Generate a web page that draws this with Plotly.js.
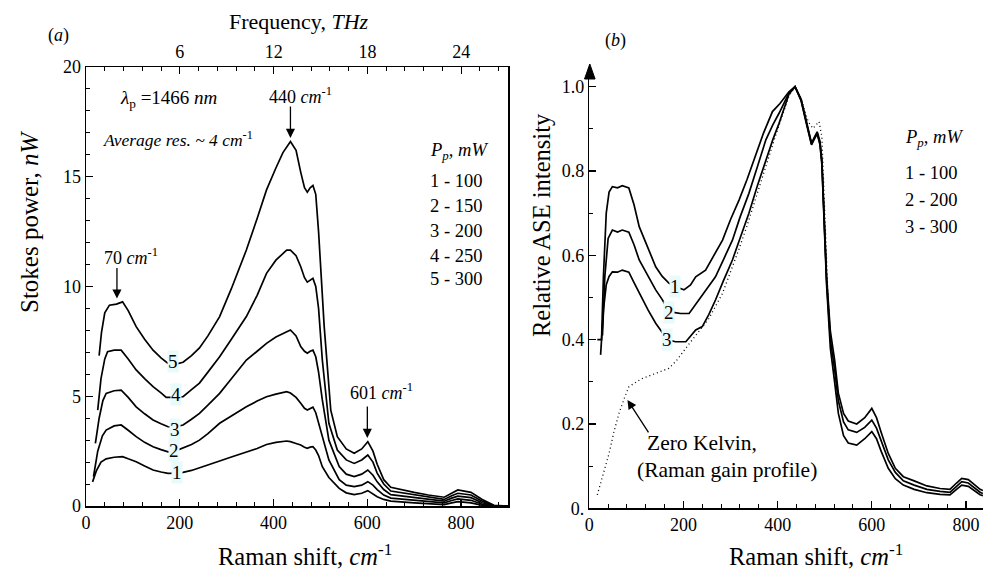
<!DOCTYPE html>
<html><head><meta charset="utf-8">
<script src="https://cdn.plot.ly/plotly-3.0.1.min.js"></script>
<style>html,body{margin:0;padding:0;background:#fff}#chart{width:983px;height:571px}</style>
</head><body><div id="chart"></div><script>
// ---------- Panel (a): Stokes power (nW) vs Raman shift (cm-1) ----------
const a5X = [28,33,40,50,65,78,90,107,125,143,160,175,190,207,225,242,260,285,310,342,365,385,405,420,436,448,458,466,472,478,484,490,496,508,522,536,555,572,588,601,612,621,635,650,700,730,764,780,793,821,845,870,900];
const a5Y = [6.85,7.9,8.8,9.15,9.2,9.3,8.9,8.17,7.6,7.1,6.75,6.5,6.45,6.55,6.85,7.2,7.75,8.63,9.9,11.66,13.1,14.4,15.4,16.1,16.6,16.2,15.2,14.5,14.3,14.5,14.6,14.2,12.5,8.17,4.37,3.16,2.6,2.4,2.6,2.93,2.5,1.9,1.2,0.85,0.62,0.5,0.4,0.6,0.73,0.62,0.3,0.03,0];
const a4X = [25,32,40,46,60,75,90,107,125,143,160,171,190,207,225,242,260,285,310,342,365,385,405,428,436,448,458,466,472,478,484,490,496,504,518,536,555,572,588,601,612,621,635,650,700,730,764,780,793,821,845,870,900];
const a4Y = [4.37,5.8,6.7,7.03,7.1,7.1,6.7,6.2,5.8,5.44,5.15,4.95,4.95,4.98,5.3,5.6,6.1,6.8,7.6,8.63,9.6,10.6,11.2,11.66,11.66,11.4,10.9,10.4,10.2,10.3,10.37,10.0,9.0,6.65,3.77,2.55,2.1,1.94,2.1,2.32,2.0,1.5,1.0,0.68,0.5,0.4,0.3,0.47,0.58,0.5,0.22,0.02,0];
const a3X = [20,28,36,43,60,75,90,107,125,143,160,175,190,207,225,242,260,285,310,342,365,385,405,428,436,448,458,466,472,478,484,490,496,504,518,540,555,572,588,601,612,621,635,650,700,730,764,780,793,821,845,870,900];
const a3Y = [2.85,4.0,4.8,5.13,5.25,5.28,4.95,4.52,4.2,3.92,3.75,3.61,3.6,3.69,3.95,4.22,4.6,5.13,5.8,6.65,7.05,7.41,7.7,7.94,8.02,7.75,7.26,7.05,6.96,7.05,7.1,6.8,6.1,4.83,3.0,1.8,1.45,1.34,1.45,1.64,1.4,1.1,0.75,0.52,0.38,0.3,0.22,0.36,0.45,0.38,0.15,0.01,0];
const a2X = [16,25,35,43,60,75,90,107,125,143,160,175,190,207,225,242,260,285,310,342,365,385,405,428,436,448,458,466,472,478,484,490,496,504,518,540,555,572,588,601,612,621,635,650,700,730,764,780,793,821,845,870,900];
const a2Y = [1.34,2.5,3.2,3.46,3.65,3.69,3.45,3.16,2.9,2.7,2.57,2.47,2.5,2.63,2.8,3.0,3.3,3.77,4.1,4.52,4.78,4.98,5.1,5.21,5.15,4.95,4.68,4.45,4.37,4.45,4.5,4.25,3.8,3.16,2.1,1.2,0.95,0.88,0.95,1.11,0.95,0.75,0.5,0.36,0.26,0.2,0.14,0.25,0.32,0.26,0.08,0,0];
const a1X = [14,22,32,43,60,78,90,107,125,143,160,175,190,207,225,242,260,285,310,342,365,385,405,428,436,448,458,466,472,478,484,490,496,504,518,540,555,572,588,601,612,621,635,650,700,730,764,780,793,821,845,870,900];
const a1Y = [1.1,1.6,2.0,2.15,2.22,2.25,2.15,2.02,1.82,1.64,1.55,1.49,1.5,1.53,1.62,1.75,1.88,2.05,2.23,2.45,2.62,2.8,2.9,2.96,2.93,2.85,2.78,2.68,2.63,2.68,2.7,2.55,2.3,1.79,1.3,0.8,0.6,0.52,0.58,0.70,0.55,0.42,0.3,0.22,0.14,0.1,0.06,0.14,0.2,0.14,0.03,0,0];
const aCurveLabels = ['1','2','3','4','5'];
const aLegendRows = ['1 - 100','2 - 150','3 - 200','4 - 250','5 - 300'];
const aTicksX = [0,200,400,600,800];
const aTicksY = [0,5,10,15,20];
const freqTHz = [6,12,18,24];

// ---------- Panel (b): relative ASE intensity ----------
const b1X = [17,26,30,36,42,49,60,70,84,95,106,125,141,155,169,182,201,215,226,247,265,283,300,318,335,353,370,389,405,424,437,450,462,472,478,484,490,494,504,512,521,529,540,550,568,585,600,610,620,635,650,667,690,717,745,766,780,791,805,830,836];
const b1Y = [0.40,0.40,0.55,0.70,0.75,0.763,0.76,0.765,0.76,0.72,0.668,0.615,0.573,0.55,0.534,0.526,0.518,0.53,0.549,0.565,0.6,0.636,0.685,0.731,0.78,0.834,0.89,0.941,0.96,0.988,1.0,0.97,0.913,0.866,0.88,0.893,0.87,0.826,0.549,0.42,0.352,0.273,0.225,0.207,0.200,0.215,0.237,0.215,0.18,0.13,0.095,0.075,0.065,0.053,0.047,0.045,0.06,0.071,0.068,0.045,0.042];
const b2X = [28,33,40,49,60,70,84,95,106,125,141,155,169,182,194,212,232,250,268,285,304,320,339,357,375,390,403,424,437,450,462,472,478,484,490,494,504,512,521,529,540,550,568,585,600,610,620,635,650,667,690,717,745,766,780,791,805,830,836];
const b2Y = [0.41,0.55,0.64,0.66,0.655,0.66,0.655,0.625,0.589,0.55,0.518,0.495,0.466,0.464,0.462,0.462,0.494,0.52,0.549,0.59,0.636,0.69,0.747,0.81,0.874,0.91,0.937,0.985,1.0,0.968,0.91,0.864,0.878,0.89,0.865,0.82,0.54,0.4,0.33,0.255,0.205,0.186,0.180,0.192,0.209,0.19,0.16,0.115,0.085,0.065,0.055,0.045,0.04,0.038,0.052,0.063,0.06,0.038,0.035];
const b3X = [24,30,36,42,49,60,70,84,95,106,125,141,159,166,183,205,226,240,254,268,285,304,320,339,357,375,390,403,424,437,450,462,472,478,484,490,494,504,512,521,529,540,550,568,585,600,610,620,635,650,667,690,717,745,766,780,791,805,830,836];
const b3Y = [0.364,0.47,0.53,0.55,0.561,0.56,0.565,0.56,0.535,0.51,0.47,0.439,0.411,0.40,0.395,0.395,0.423,0.431,0.46,0.494,0.54,0.589,0.64,0.7,0.765,0.826,0.875,0.913,0.982,1.0,0.966,0.908,0.862,0.876,0.888,0.862,0.815,0.53,0.38,0.3,0.225,0.172,0.155,0.150,0.165,0.182,0.165,0.135,0.095,0.07,0.055,0.045,0.037,0.033,0.032,0.045,0.055,0.052,0.032,0.03];
const zkX = [17,30,42,52,63,74,84,100,113,141,169,185,198,212,226,254,283,300,318,335,353,375,396,424,437,450,465,475,482,488,494,500,507,515,525];
const zkY = [0.032,0.08,0.13,0.18,0.225,0.26,0.288,0.30,0.308,0.32,0.332,0.35,0.368,0.39,0.41,0.45,0.51,0.56,0.615,0.67,0.735,0.81,0.885,0.978,1.0,0.97,0.917,0.901,0.91,0.917,0.881,0.7,0.5,0.36,0.27];
const bCurveLabels = ['1','2','3'];
const bLegendRows = ['1 - 100','2 - 200','3 - 300'];
const bTicksX = [0,200,400,600,800];
const bTicksY = [0,0.2,0.4,0.6,0.8,1.0];
const bTickText = ['0.','0.2','0.4','0.6','0.8','1.0'];

// ---------- build ----------
const W = 983, H = 571;
const px = v => v / W, py = v => 1 - v / H;
const F = '"Liberation Serif", "Times New Roman", Times, serif';
const tf = {family: F, size: 18, color: '#000'};
const CM_PER_THZ = 33.356;
const steps = (a, b, s) => { const r = []; for (let v = a; v <= b + 1e-9; v += s) r.push(+v.toFixed(4)); return r; };
const fnt = s => ({family:F, size:s, color:'#000'});

const line = {color: '#000', width: 1.7};
const traces = [];
[[a1X,a1Y],[a2X,a2Y],[a3X,a3Y],[a4X,a4Y],[a5X,a5Y]].forEach(([x,y]) =>
  traces.push({x, y, type:'scatter', mode:'lines', line, xaxis:'x', yaxis:'y', hoverinfo:'skip'}));
// invisible copy so the top (frequency) axis is drawn
traces.push({x: a5X, y: a5Y, type:'scatter', mode:'lines', line:{color:'rgba(0,0,0,0)', width:0}, xaxis:'x2', yaxis:'y', hoverinfo:'skip'});
traces.push({x: zkX, y: zkY, type:'scatter', mode:'lines', line:{color:'#000', width:1.3, dash:'1px,3px'}, xaxis:'x3', yaxis:'y2', hoverinfo:'skip'});
[[b1X,b1Y],[b2X,b2Y],[b3X,b3Y]].forEach(([x,y]) =>
  traces.push({x, y, type:'scatter', mode:'lines', line, xaxis:'x3', yaxis:'y2', hoverinfo:'skip'}));

const axCommon = {showgrid:false, zeroline:false, showline:true, linecolor:'#000', linewidth:1.5,
  ticks:'inside', ticklen:7, tickwidth:1.3, tickcolor:'#000', tickfont: tf};
const minorT = vals => ({tickmode:'array', tickvals:vals, ticks:'inside', ticklen:4, tickwidth:1, tickcolor:'#000', showgrid:false});

const annotations = [];
const txt = (text, x, y, opt={}) => annotations.push(Object.assign({text, x, y, xref:'paper', yref:'paper', xanchor:'center', yanchor:'middle', showarrow:false, font:fnt(18)}, opt));
const arrow = (xr, yr, x, y, ax, ay) => annotations.push({text:'', x, y, xref:xr, yref:yr, showarrow:true, arrowhead:2, arrowsize:1.4, arrowwidth:1.3, arrowcolor:'#000', ax, ay});

// panel a texts
txt('(<i>a</i>)', px(58), py(35));
txt('Frequency, <i>THz</i>', px(299), py(22), {font:fnt(22)});
txt('Stokes power, <i>nW</i>', px(29), py(222), {textangle:-90, font:fnt(25)});
txt('Raman shift, <i>cm</i><sup>-1</sup>', px(305), py(555), {font:fnt(24.5)});
txt('<i>λ</i><sub>p</sub> =1466 <i>nm</i>', px(168), py(99), {font:fnt(19)});
txt('<i>Average res. ~ 4 cm</i><sup>-1</sup>', px(178), py(139), {font:fnt(17.5)});
txt('440 <i>cm</i><sup>-1</sup>', px(300), py(95));
txt('70 <i>cm</i><sup>-1</sup>', px(131), py(256));
txt('601 <i>cm</i><sup>-1</sup>', px(381), py(391));
arrow('x','y', 436, 16.77, 0, -33);
arrow('x','y', 66, 9.45, 0, -32);
arrow('x','y', 600, 3.1, 0, -33);
txt('<i>P<sub>p</sub>, mW</i>', px(428), py(152), {xanchor:'left', font:fnt(18.5)});
const aRowsPy = [181, 206, 231, 256, 279];
aLegendRows.forEach((t,i) => txt(t, px(428), py(aRowsPy[i]), {xanchor:'left', font:fnt(18.5)}));
const aLabPos = [[193,1.52],[187,2.52],[189,3.49],[191,5.1],[185,6.57]];
aCurveLabels.forEach((t,i) => annotations.push({text:t, x:aLabPos[i][0], y:aLabPos[i][1], xref:'x', yref:'y', xanchor:'center', yanchor:'middle', showarrow:false, bgcolor:'#e8fafa', borderpad:0, font:fnt(19)}));

// panel b texts
txt('(<i>b</i>)', px(615), py(40));
txt('Relative ASE intensity', px(541), py(225), {textangle:-90, font:fnt(24.5)});
txt('Raman shift, <i>cm</i><sup>-1</sup>', px(816), py(555), {font:fnt(24.5)});
txt('<i>P<sub>p</sub>, mW</i>', px(903), py(138), {xanchor:'left', font:fnt(18.5)});
const bRowsPy = [173, 200, 227];
bLegendRows.forEach((t,i) => txt(t, px(903), py(bRowsPy[i]), {xanchor:'left', font:fnt(18.5)}));
const bLabPos = [[182,0.526],[169,0.465],[166,0.401]];
bCurveLabels.forEach((t,i) => annotations.push({text:t, x:bLabPos[i][0], y:bLabPos[i][1], xref:'x3', yref:'y2', xanchor:'center', yanchor:'middle', showarrow:false, bgcolor:'#e8fafa', borderpad:0, font:fnt(19)}));
txt('Zero Kelvin,', px(645), py(443), {xanchor:'left', font:fnt(21.5)});
txt('(Raman gain profile)', px(635), py(470), {xanchor:'left', font:fnt(21.5)});
arrow('x3','y2', 81, 0.257, 22, 34);

const layout = {
  width: W, height: H, margin:{l:0, r:0, t:0, b:0},
  paper_bgcolor:'#fff', plot_bgcolor:'rgba(0,0,0,0)', showlegend:false,
  font:{family:F, color:'#000'},
  xaxis: Object.assign({}, axCommon, {domain:[px(86), px(508)], range:[0,900], anchor:'y',
    tickmode:'array', tickvals:aTicksX, ticktext:aTicksX.map(String), minor:minorT(steps(0,900,40))}),
  xaxis2: Object.assign({}, axCommon, {overlaying:'x', side:'top', anchor:'y', range:[0,900],
    tickmode:'array', tickvals:freqTHz.map(v => v*CM_PER_THZ), ticktext:freqTHz.map(String), minor:minorT(steps(0,900,40))}),
  yaxis: Object.assign({}, axCommon, {domain:[py(506), py(67)], range:[0,20], anchor:'x', mirror:true,
    tickmode:'array', tickvals:aTicksY, ticktext:aTicksY.map(String), minor:minorT(steps(0,20,1))}),
  xaxis3: Object.assign({}, axCommon, {domain:[px(589.3), 1], range:[0,836.2], anchor:'y2',
    tickmode:'array', tickvals:bTicksX, ticktext:bTicksX.map(String), minor:minorT(steps(0,836,40))}),
  yaxis2: Object.assign({}, axCommon, {domain:[py(508.3), py(67)], range:[0,1.0467], anchor:'x3',
    tickmode:'array', tickvals:bTicksY, ticktext:bTickText, minor:minorT(steps(0,1.0,0.1))}),
  annotations,
  shapes: [{type:'path', xref:'paper', yref:'paper',
    path:`M ${px(589.8)},${py(64)} L ${px(584.5)},${py(79)} L ${px(595.1)},${py(79)} Z`,
    fillcolor:'#000', line:{color:'#000', width:1}}]
};
Plotly.newPlot('chart', traces, layout, {staticPlot:true, displayModeBar:false});
</script></body></html>
